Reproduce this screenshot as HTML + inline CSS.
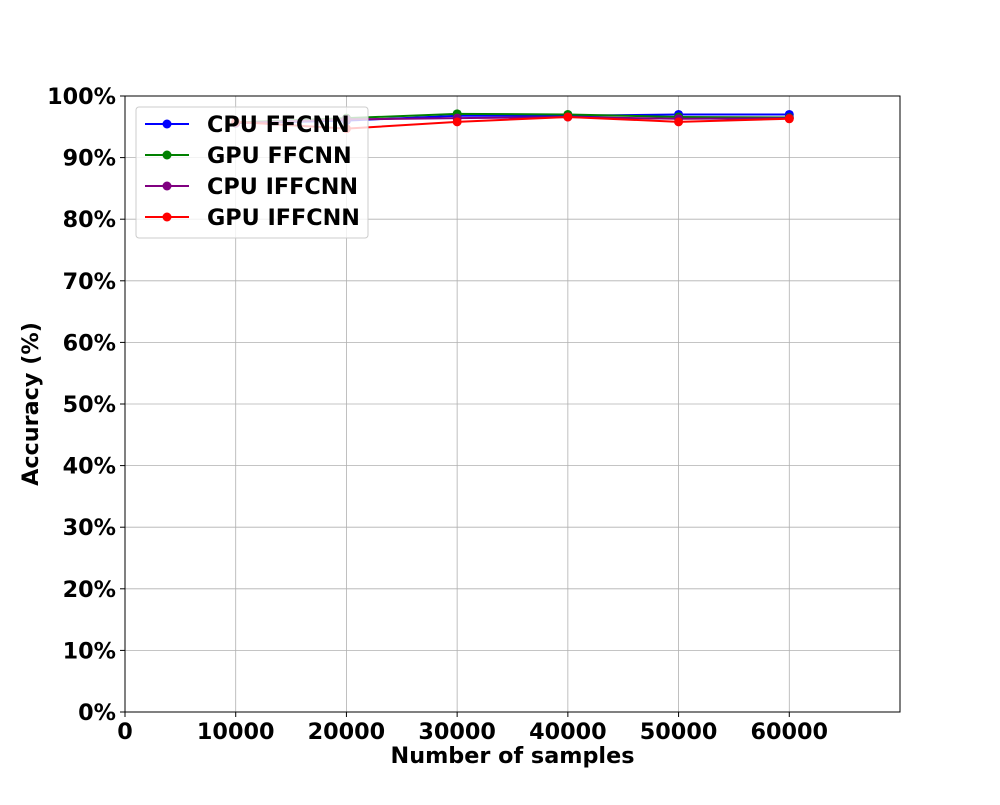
<!DOCTYPE html>
<html><head><meta charset="utf-8"><style>
body{margin:0;background:#fff;}
svg{font-family:"DejaVu Sans","Liberation Sans",sans-serif;font-weight:bold;}
</style></head><body>
<svg id="chart" width="1000" height="800"></svg>
<script>
const xValues=[10000,20000,30000,40000,50000,60000];
const seriesNames=["CPU FFCNN","GPU FFCNN","CPU IFFCNN","GPU IFFCNN"];
const seriesColors=["blue","green","purple","red"];
const cpuFfcnn=[95.6,96.0,96.8,96.8,97.0,97.0];
const gpuFfcnn=[95.7,96.4,97.1,97.0,96.6,96.5];
const cpuIffcnn=[95.6,96.2,96.4,96.6,96.3,96.4];
const gpuIffcnn=[95.8,94.7,95.8,96.6,95.8,96.3];
const xTicks=[0,10000,20000,30000,40000,50000,60000];
const yTicks=[0,10,20,30,40,50,60,70,80,90,100];
const allSeries=[cpuFfcnn,gpuFfcnn,cpuIffcnn,gpuIffcnn];

const FS=22.3;
const L=125,R=900,T=96,B=712,XMAX=70000;
const xs=v=>L+(v/XMAX)*(R-L);
const ys=v=>B-(v/100)*(B-T);
const svg=document.getElementById('chart');
const NS='http://www.w3.org/2000/svg';
function mk(tag,attrs,parent){const e=document.createElementNS(NS,tag);for(const k in attrs)e.setAttribute(k,attrs[k]);(parent||svg).appendChild(e);return e;}

const grid=mk('g',{});


xTicks.forEach(t=>{
  const l=mk('line',{x1:xs(t),x2:xs(t),y1:T,y2:B,stroke:'#b0b0b0','stroke-width':0.8},grid);
  
  
  const tx=mk('text',{x:xs(t),y:B+27,'text-anchor':'middle','font-size':FS});
  tx.textContent=t;
  
  
  mk('line',{x1:xs(t),x2:xs(t),y1:B,y2:B+5,stroke:'#000'});
});
yTicks.forEach(t=>{
  const l=mk('line',{x1:L,x2:R,y1:ys(t),y2:ys(t),stroke:'#b0b0b0','stroke-width':0.8},grid);
  
  
  const tx=mk('text',{x:L-9,y:ys(t)+8,'text-anchor':'end','font-size':FS});
  tx.textContent=t+'%';
  
  
  mk('line',{x1:L-5,x2:L,y1:ys(t),y2:ys(t),stroke:'#000'});
});

allSeries.forEach((s,i)=>{
  const g=mk('g',{});
  
  
  mk('polyline',{points:s.map((v,j)=>xs(xValues[j])+','+ys(v)).join(' '),fill:'none',stroke:seriesColors[i],'stroke-width':2},g);
  s.forEach((v,j)=>{
    const c=mk('circle',{cx:xs(xValues[j]),cy:ys(v),r:4.5,fill:seriesColors[i]},g);
    
    
  });
});

const frame=mk('rect',{x:L,y:T,width:R-L,height:B-T,fill:'none',stroke:'#000','stroke-width':1});



const xt=mk('text',{x:(L+R)/2,y:763,'text-anchor':'middle','font-size':FS});
xt.textContent='Number of samples';


const yt=mk('text',{x:0,y:0,'text-anchor':'middle','font-size':FS,transform:'translate(38,404) rotate(-90)'});
yt.textContent='Accuracy (%)';



const lg=mk('g',{});


mk('rect',{x:136,y:107,width:232,height:131,rx:3,fill:'#fff','fill-opacity':0.8,stroke:'#ccc'},lg);
seriesNames.forEach((n,i)=>{
  const y=124+i*31;
  const e=mk('g',{},lg);
  
  
  mk('line',{x1:145,x2:189,y1:y,y2:y,stroke:seriesColors[i],'stroke-width':2},e);
  mk('circle',{cx:167,cy:y,r:4.5,fill:seriesColors[i]},e);
  const t=mk('text',{x:207,y:y+8,'font-size':FS},e);
  t.textContent=n;
});
</script>
</body></html>
